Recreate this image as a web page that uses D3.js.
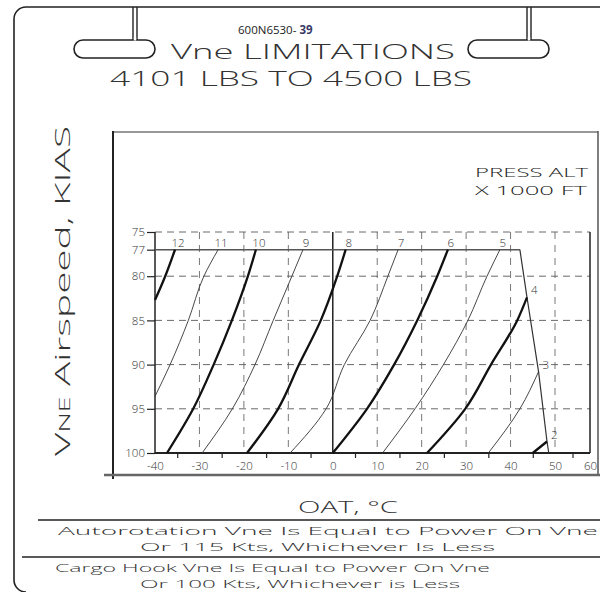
<!DOCTYPE html>
<html><head><meta charset="utf-8">
<script src="https://cdn.jsdelivr.net/npm/d3@7"></script>
<style>
body{margin:0;background:#fff}
svg{display:block}
text{font-family:"Open Sans","DejaVu Sans",sans-serif;font-weight:300;fill:#222}
</style>
</head><body><svg id="c" width="600" height="592"></svg>
<script>
// ---- data (OAT °C, Vne KIAS) ----
const altitudes = [12,11,10,9,8,7,6,5,4,3,2];
const line12 = [[-35.5,77],[-37.7,80],[-40,82.7]];
const line11 = [[-25.8,77],[-29,80],[-32.5,85],[-36.6,90],[-40,93.6]];
const line10 = [[-17.3,77],[-19.1,80],[-22.7,85],[-26.8,90],[-31.4,95],[-37.3,100]];
const line9  = [[-6.7,77],[-9.2,80],[-13.4,85],[-17.5,90],[-22.6,95],[-29.4,100]];
const line8  = [[2.9,77],[1.0,80],[-2.7,85],[-7.6,90],[-12.3,95],[-19.3,100]];
const line7  = [[14.7,77],[12.4,80],[8.4,85],[2.6,90],[-1.5,95],[-9.6,100]];
const line6  = [[25.9,77],[23.5,80],[19,85],[13.8,90],[7.7,95],[0,100]];
const line5  = [[37.6,77],[34.7,80],[30.4,85],[24.9,90],[18.5,95],[11.2,100]];
const line4  = [[43.7,82.4],[41.5,85],[35.6,90],[29.8,95],[21.2,100]];
const line3  = [[46.3,90.8],[42.1,95],[35,100]];
const line2  = [[48.2,98.7],[45,100]];
const limitLine = [[42.1,77],[43.7,82.4],[46.3,90.8],[48.2,98.7],[48.6,100]];
const maxVneLine = [[-40,77],[42.1,77]];
const xTickValues = [-40,-30,-20,-10,0,10,20,30,40,50,60];
const xMinorTicks = [-35,-25,-15,-5,5,15,25,35,45,55];
const yTickValues = [75,77,80,85,90,95,100];
const yGridValues = [75,80,85,90,95];
const xGridDashed = [-30,-20,-10,10,20,30,40,50];
const xGridSolid = [-40,0,60];
const titleCode = "600N6530- ";
const titleRev = "39";
const title1 = "Vne LIMITATIONS";
const title2 = "4101 LBS TO 4500 LBS";
const xTitle = "OAT, °C";
const notes = ["Autorotation Vne Is Equal to Power On Vne","Or 115 Kts, Whichever Is Less",
               "Cargo Hook Vne Is Equal to Power On Vne","Or 100 Kts, Whichever is Less"];

const seriesList = [line12,line11,line10,line9,line8,line7,line6,line5,line4,line3,line2];

const svg = d3.select("#c");
const x = d3.scaleLinear().domain([-40,50,60]).range([155,555,590]);
const y = d3.scaleLinear().domain([75,100]).range([232,453]);
const ink = "#222";
const FONT = "Open Sans";

// ---- outer frame ----
svg.append("path").attr("d","M14,19 A12,12 0 0 1 26,7 L600,7 M14,19 L14,580 A12,12 0 0 0 26,592")
  .attr("fill","none").attr("stroke",ink).attr("stroke-width",1.6);
[[133,137,74],[527,531,468]].forEach(([a,b,px])=>{
  svg.append("path").attr("d",`M${a},7 L${a},40 M${b},7 L${b},40`).attr("stroke",ink).attr("stroke-width",1.4);
  svg.append("rect").attr("x",px).attr("y",40).attr("width",81).attr("height",18).attr("rx",9)
    .attr("fill","#fff").attr("stroke",ink).attr("stroke-width",1.6);
  svg.append("path").attr("d",`M${a+0.8},39 L${b-0.8},39`).attr("stroke","#fff").attr("stroke-width",3);
});

// ---- titles ----
const t0 = svg.append("text").attr("x",238).attr("y",34).attr("font-size",11.5).style("font-weight",400);
t0.append("tspan").text(titleCode);
t0.append("tspan").text(titleRev).attr("font-weight","bold").style("fill","#3a3a66");
svg.append("text").attr("x",171).attr("y",59).attr("font-size",20).attr("textLength",284)
  .attr("lengthAdjust","spacingAndGlyphs").style("fill","#333").text(title1);
svg.append("text").attr("x",110).attr("y",86).attr("font-size",20).attr("textLength",362)
  .attr("lengthAdjust","spacingAndGlyphs").style("fill","#333").text(title2);

// ---- inner box ----
svg.append("line").attr("x1",113).attr("x2",598).attr("y1",132).attr("y2",132).attr("stroke","#999").attr("stroke-width",2);
svg.append("line").attr("x1",113).attr("x2",113).attr("y1",131).attr("y2",479).attr("stroke",ink).attr("stroke-width",2);
svg.append("line").attr("x1",598).attr("x2",598).attr("y1",131).attr("y2",475).attr("stroke","#555").attr("stroke-width",1.5);
svg.append("line").attr("x1",104).attr("x2",600).attr("y1",475).attr("y2",475).attr("stroke","#666").attr("stroke-width",2.5);

// y axis title
const yt = svg.append("text").attr("transform","translate(70,291) rotate(-90)").attr("text-anchor","middle")
  .attr("font-size",20).style("fill","#333").attr("textLength",330).attr("lengthAdjust","spacingAndGlyphs");
yt.append("tspan").text("V");
yt.append("tspan").attr("font-size",14).text("NE");
yt.append("tspan").text(" Airspeed, KIAS");

// PRESS ALT
svg.append("text").attr("x",475).attr("y",177).attr("font-size",13).attr("textLength",113)
  .attr("lengthAdjust","spacingAndGlyphs").style("font-weight",300).text("PRESS ALT");
svg.append("text").attr("x",475).attr("y",195).attr("font-size",13).attr("textLength",112)
  .attr("lengthAdjust","spacingAndGlyphs").style("font-weight",300).text("X 1000 FT");

// ---- grid ----
const g = svg.append("g");
g.selectAll(".hg").data(yGridValues).join("line")
  .attr("x1",x(-40)).attr("x2",x(60)).attr("y1",d=>y(d)).attr("y2",d=>y(d))
  .attr("stroke","#444").attr("stroke-width",0.8).attr("stroke-dasharray","7,5");
g.selectAll(".vg").data(xGridDashed).join("line")
  .attr("x1",d=>x(d)).attr("x2",d=>x(d)).attr("y1",y(75)).attr("y2",y(100))
  .attr("stroke","#555").attr("stroke-width",0.8).attr("stroke-dasharray","7,6");
g.selectAll(".vs").data(xGridSolid).join("line")
  .attr("x1",d=>x(d)).attr("x2",d=>x(d)).attr("y1",y(75)).attr("y2",y(100))
  .attr("stroke",ink).attr("stroke-width",1.5);
g.append("line").attr("x1",x(-40)).attr("x2",x(60)).attr("y1",y(100)).attr("y2",y(100))
  .attr("stroke",ink).attr("stroke-width",1.8);

// ---- axes ----
const ax = svg.append("g").attr("transform",`translate(0,${y(100)})`)
  .call(d3.axisBottom(x).tickValues(xTickValues).tickSize(0).tickPadding(9).tickFormat(d=>d));
ax.select(".domain").remove();
ax.selectAll("text").attr("font-size",11.5).style("font-family",FONT).style("font-weight",300).style("fill","#333");
const axm = svg.append("g").attr("transform",`translate(0,${y(100)})`)
  .call(d3.axisBottom(x).tickValues(xMinorTicks).tickSize(5).tickFormat(""));
axm.select(".domain").remove();
axm.selectAll("line").attr("stroke",ink).attr("stroke-width",1.2);
const ay = svg.append("g").attr("transform",`translate(${x(-40)},0)`)
  .call(d3.axisLeft(y).tickValues(yTickValues).tickSize(8).tickPadding(2));
ay.select(".domain").remove();
ay.selectAll("line").attr("stroke",ink).attr("stroke-width",1.2);
ay.selectAll("text").attr("font-size",11.5).style("font-family",FONT).style("font-weight",300).style("fill","#333");

// ---- curves ----
const lineGen = d3.line().x(d=>x(d[0])).y(d=>y(d[1])).curve(d3.curveMonotoneY);
const lineStraight = d3.line().x(d=>x(d[0])).y(d=>y(d[1]));
svg.append("path").attr("d",lineStraight(maxVneLine)).attr("fill","none").attr("stroke","#555").attr("stroke-width",1.6);
svg.append("path").attr("d",lineStraight(limitLine)).attr("fill","none").attr("stroke","#333").attr("stroke-width",1.2);
seriesList.forEach((pts,i)=>{
  const bold = altitudes[i]%2===0;
  svg.append("path").attr("d",lineGen(pts)).attr("fill","none")
    .attr("stroke",bold?"#111":"#333").attr("stroke-width",bold?2.3:0.9);
  const top = pts[0];
  const lab = svg.append("text").attr("font-size",11.5).style("fill","#333").text(altitudes[i]);
  if (top[1] <= 77) {
    lab.attr("x",x(top[0])+3).attr("y",y(77)-3).attr("text-anchor","middle");
  } else {
    lab.attr("x",x(top[0])+4).attr("y",y(top[1])-3).attr("text-anchor","start");
  }
});

// ---- bottom notes ----
svg.append("text").attr("x",298).attr("y",513).attr("font-size",16).attr("textLength",100)
  .attr("lengthAdjust","spacingAndGlyphs").style("fill","#333").text(xTitle);
svg.append("line").attr("x1",38).attr("x2",600).attr("y1",520).attr("y2",520).attr("stroke",ink).attr("stroke-width",1.6);
svg.append("line").attr("x1",22).attr("x2",600).attr("y1",557).attr("y2",557).attr("stroke",ink).attr("stroke-width",1.4);
const noteSpec = [[58,535,540],[140,551,355],[55,572,435],[140,588,320]];
notes.forEach((t,i)=>{
  const [nx,ny,nw] = noteSpec[i];
  svg.append("text").attr("x",nx).attr("y",ny).attr("font-size",11.5).attr("textLength",nw)
    .attr("lengthAdjust","spacingAndGlyphs").style("fill","#333").text(t);
});
</script>
</body></html>
